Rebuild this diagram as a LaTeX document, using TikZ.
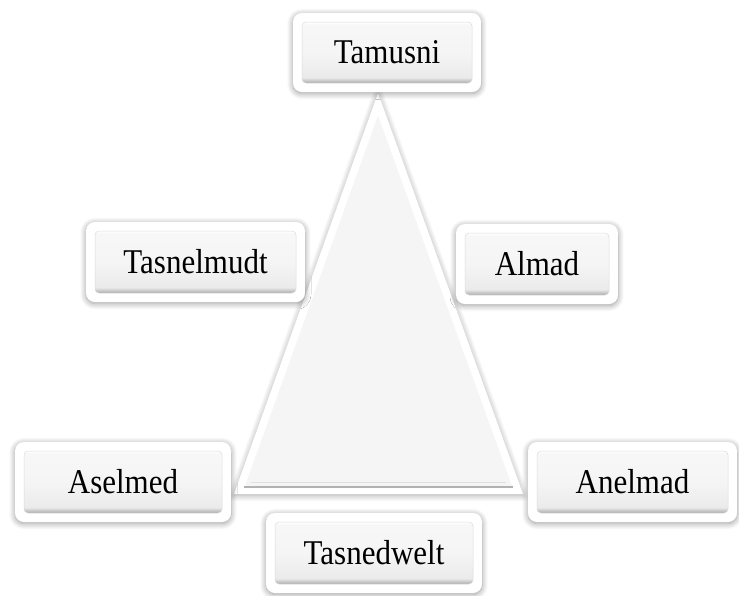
\documentclass[tikz,border=0pt]{standalone}
\usepackage{fontspec}
\setmainfont{Liberation Serif}
\usetikzlibrary{shadows.blur}
\pgfdeclareverticalshading{btnshade}{100bp}{color(0bp)=(black!32); color(25bp)=(black!32); color(27bp)=(black!22); color(29.5bp)=(black!8); color(50bp)=(black!4); color(73bp)=(black!3); color(75bp)=(white); color(100bp)=(white)}
\newcommand{\lbl}[1]{\scalebox{1}[1.12]{#1}}
\tikzset{
  frame/.style={draw=none, fill=white, rounded corners=9pt, inner sep=0pt,
    blur shadow={shadow blur steps=10, shadow xshift=0pt, shadow yshift=-1.5pt, shadow opacity=40, shadow blur radius=6pt}},
  btn/.style={draw=black!14, line width=0.5pt, shading=btnshade, rounded corners=4pt, inner sep=0pt,
    font=\fontsize{31}{36}\selectfont, text=black},
  trioutline/.style={fill=white, draw=none,
    blur shadow={shadow blur steps=10, shadow xshift=0pt, shadow yshift=-1.5pt, shadow opacity=35, shadow blur radius=6pt}},
  triinner/.style={fill=black!4, draw=white, line width=1pt}
}
\begin{document}
\begin{tikzpicture}[x=1pt,y=-1pt]
\useasboundingbox (0,0) rectangle (739,595);
% triangle
\coordinate (ta) at (378,93);
\coordinate (tl) at (234,494);
\coordinate (tr) at (523,494);
\coordinate (ia) at (378,114);
\coordinate (il) at (244,487);
\coordinate (ir) at (513,487);
\coordinate (bl) at (251,482);
\coordinate (br) at (506,482);
\path[trioutline] (ta) -- (tl) -- (tr) -- cycle;
\path[triinner] (ia) -- (il) -- (ir) -- cycle;
\draw[black!30, line width=1.2pt] (il) -- (ir);
\draw[black!12, line width=0.8pt] (bl) -- (br);
% boxes
\node[frame, minimum width=188pt, minimum height=79pt] (tamF) at (387,52.5) {};
\node[btn, minimum width=170pt, minimum height=61pt] (tam) at (tamF) {\lbl{Tamusni}};
\node[frame, minimum width=219pt, minimum height=80pt] (tasF) at (195.5,262) {};
\node[btn, minimum width=201pt, minimum height=62pt] (tas) at (tasF) {\lbl{Tasnelmudt}};
\node[frame, minimum width=162pt, minimum height=80pt] (almF) at (537,264) {};
\node[btn, minimum width=144pt, minimum height=62pt] (alm) at (almF) {\lbl{Almad}};
\node[frame, minimum width=216pt, minimum height=80pt] (aseF) at (123,482) {};
\node[btn, minimum width=198pt, minimum height=62pt] (ase) at (aseF) {\lbl{Aselmed}};
\node[frame, minimum width=209pt, minimum height=80pt] (aneF) at (632.5,482) {};
\node[btn, minimum width=191pt, minimum height=62pt] (ane) at (aneF) {\lbl{Anelmad}};
\node[frame, minimum width=216pt, minimum height=80pt] (tweF) at (374,553) {};
\node[btn, minimum width=198pt, minimum height=62pt] (twe) at (tweF) {\lbl{Tasnedwelt}};
\end{tikzpicture}
\end{document}
